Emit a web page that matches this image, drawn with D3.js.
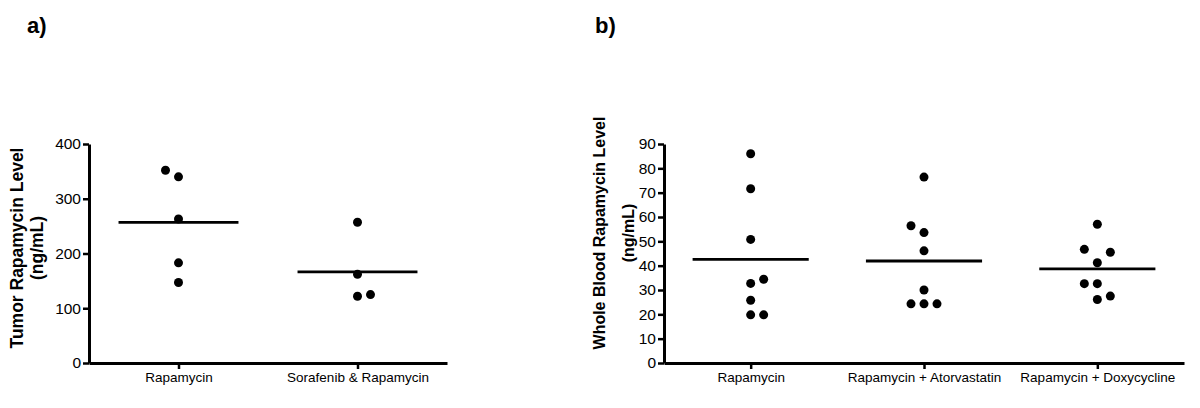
<!DOCTYPE html>
<html>
<head>
<meta charset="utf-8">
<script src="https://cdn.jsdelivr.net/npm/d3@7"></script>
<style>
  body { margin: 0; background: #fff; }
  svg { font-family: "Liberation Sans", Arial, sans-serif; }
</style>
</head>
<body>
<svg id="chart" width="1200" height="408"></svg>
<script>
// panel a: tumor levels
let tumorGroups = ["Rapamycin", "Sorafenib & Rapamycin"];
let tumorValues = [
  [340, 352, 263, 183, 147],
  [257, 162, 122, 125],
];
// side-by-side column of each dot (-1 left, 0 centre, 1 right)
let tumorCols = [
  [0, -1, 0, 0, 0],
  [0, 0, 0, 1],
];
let tumorTicks = [0, 100, 200, 300, 400];

// panel b: whole blood levels
let bloodGroups = ["Rapamycin", "Rapamycin + Atorvastatin", "Rapamycin + Doxycycline"];
let bloodValues = [
  [86, 71.6, 50.8, 32.7, 34.4, 25.8, 19.8, 19.8],
  [76.4, 56.4, 53.6, 46.1, 30, 24.3, 24.3, 24.3],
  [57, 46.7, 45.5, 41.2, 32.6, 32.6, 26.1, 27.5],
];
let bloodCols = [
  [0, 0, 0, 0, 1, 0, 0, 1],
  [0, -1, 0, 0, 0, -1, 0, 1],
  [0, -1, 1, 0, -1, 0, 0, 1],
];
let bloodTicks = [0, 10, 20, 30, 40, 50, 60, 70, 80, 90];

let svg = d3.select("#chart");

function draw_panel(opts) {
  let g = svg.append("g");

  let x = d3.scalePoint().domain(opts.groups).range([opts.left, opts.right]).padding(0.5);
  let y = d3.scaleLinear().domain(opts.yDomain).range([363, 144]);
  let dx = 13;

  // dots
  opts.values.forEach(function (vals, i) {
    vals.forEach(function (v, j) {
      g.append("circle")
        .attr("cx", x(opts.groups[i]) + opts.cols[i][j] * dx)
        .attr("cy", y(v))
        .attr("r", 4.5)
        .attr("fill", "#000");
    });
  });

  // mean lines
  let half = x.step() * 0.335;
  g.selectAll(".mean")
    .data(opts.values)
    .enter()
    .append("line")
    .attr("class", "mean")
    .attr("x1", (d, i) => x(opts.groups[i]) - half)
    .attr("x2", (d, i) => x(opts.groups[i]) + half)
    .attr("y1", (d) => y(d3.mean(d)))
    .attr("y2", (d) => y(d3.mean(d)))
    .attr("stroke", "#000")
    .attr("stroke-width", 2.8);

  // x axis
  let xAxis = g.append("g")
    .attr("transform", "translate(0,363)")
    .call(d3.axisBottom(x).tickSize(6).tickSizeOuter(0).tickPadding(3));
  xAxis.selectAll("text").style("font-size", "13.5px").attr("fill", "#000");

  // y axis
  let yAxis = g.append("g")
    .attr("transform", "translate(" + opts.left + ",0)")
    .call(d3.axisLeft(y).tickValues(opts.ticks).tickSize(6).tickSizeOuter(0).tickPadding(2));
  yAxis.selectAll("text").style("font-size", "15.5px").attr("fill", "#000");

  [xAxis, yAxis].forEach(function (a) {
    a.select(".domain").attr("stroke", "#000").attr("stroke-width", 3);
    a.selectAll(".tick line").attr("stroke", "#000").attr("stroke-width", 2.5);
  });

  // y axis title (two lines)
  let title = g.append("text")
    .attr("transform", "translate(" + opts.titleX + "," + opts.titleY + ") rotate(-90)")
    .style("text-anchor", "middle")
    .style("font-weight", "bold")
    .style("font-size", opts.titleSize + "px");
  title.append("tspan").attr("x", 0).attr("y", 0).text(opts.title);
  title.append("tspan").attr("x", 0).attr("y", opts.titleGap).text("(ng/mL)");

  // panel letter
  svg.append("text")
    .attr("x", opts.letterX)
    .attr("y", 33)
    .style("font-weight", "bold")
    .style("font-size", "22px")
    .text(opts.letter);
}

draw_panel({
  groups: tumorGroups,
  values: tumorValues,
  cols: tumorCols,
  ticks: tumorTicks,
  yDomain: [0, 400],
  left: 89,
  right: 447,
  title: "Tumor Rapamycin Level",
  titleX: 23,
  titleY: 248,
  titleSize: 17.5,
  titleGap: 20,
  letter: "a)",
  letterX: 27,
});

draw_panel({
  groups: bloodGroups,
  values: bloodValues,
  cols: bloodCols,
  ticks: bloodTicks,
  yDomain: [0, 90],
  left: 664,
  right: 1184,
  title: "Whole Blood Rapamycin Level",
  titleX: 605,
  titleY: 233,
  titleSize: 16,
  titleGap: 29,
  letter: "b)",
  letterX: 595,
});
</script>
</body>
</html>
